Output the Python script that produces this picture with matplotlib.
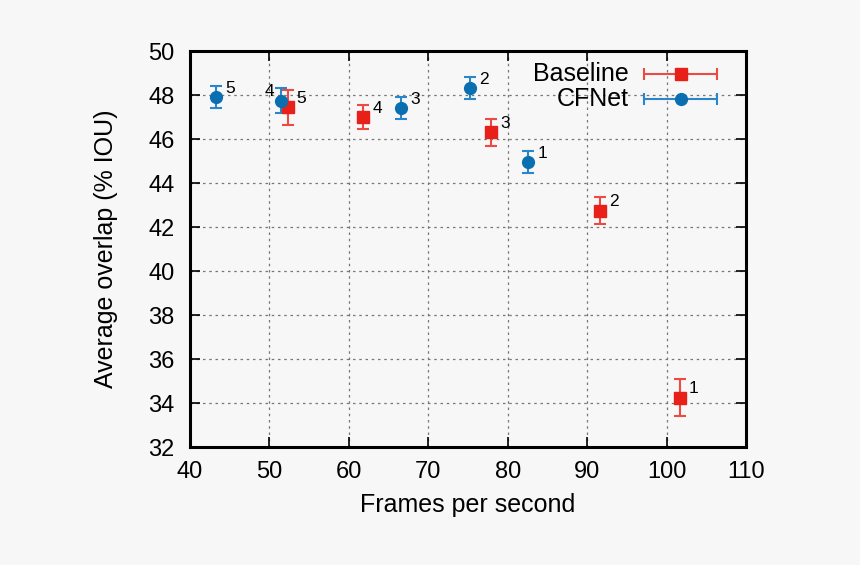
import matplotlib
matplotlib.use("Agg")
import matplotlib.pyplot as plt

plt.rcParams['font.family'] = ['Liberation Sans', 'DejaVu Sans']

# Data
base_fps = [101.7, 91.6, 77.9, 61.8, 52.3]
base_iou = [34.25, 42.75, 46.3, 47.0, 47.45]
base_err = [0.85, 0.6, 0.6, 0.55, 0.8]
base_lbl = ['1', '2', '3', '4', '5']

cf_fps = [82.6, 75.3, 66.6, 51.5, 43.3]
cf_iou = [44.95, 48.3, 47.4, 47.75, 47.9]
cf_err = [0.5, 0.5, 0.5, 0.55, 0.5]
cf_lbl = ['1', '2', '3', '4', '5']

red = '#e8201a'
red_bar = '#ee4a44'
blue = '#0a6fb0'
blue_bar = '#2a86c8'

fig = plt.figure(figsize=(8.6, 5.65), dpi=100, facecolor='#f7f7f7')
ax = fig.add_axes([190/860, 1-447/565, (746-190)/860, (447-51)/565])
ax.set_facecolor('#f7f7f7')

ekw = dict(markersize=8.5, capsize=4, elinewidth=1.5, capthick=1.5)
ax.errorbar(base_fps, base_iou, yerr=base_err, fmt='s', color=red, ecolor=red_bar, zorder=3, **ekw)
ax.errorbar(cf_fps, cf_iou, yerr=cf_err, fmt='o', color=blue, ecolor=blue_bar, zorder=3, **ekw)

for x, y, t in zip(base_fps, base_iou, base_lbl):
    ax.annotate(t, (x, y), xytext=(6.5, 3), textcoords='offset points', fontsize=12.5,
                va='baseline', ha='left')
for x, y, t in zip(cf_fps, cf_iou, cf_lbl):
    if t == '4':
        ax.annotate(t, (x, y), xytext=(-5, 3), textcoords='offset points', fontsize=12.5,
                    va='baseline', ha='right')
    else:
        ax.annotate(t, (x, y), xytext=(6.5, 3), textcoords='offset points', fontsize=12.5,
                    va='baseline', ha='left')

ax.set_xlim(40, 110)
ax.set_ylim(32, 50)
ax.set_xticks(range(40, 111, 10))
ax.set_yticks(range(32, 51, 2))
ax.tick_params(direction='in', top=True, right=True, length=7, width=1.2, labelsize=17)
ax.tick_params(axis='x', pad=10)
ax.tick_params(axis='y', pad=11)
ax.grid(True, linestyle=(0, (2, 3)), color='#777777', linewidth=0.9)
for s in ax.spines.values():
    s.set_linewidth(2.2)
ax.set_xlabel('Frames per second', fontsize=18, labelpad=7)
ax.set_ylabel('Average overlap (% IOU)', fontsize=18, labelpad=22)

# legend drawn manually in axes coordinates
def ax_xy(px, py):
    return ((px-190)/556, (447-py)/396)

for (name, col, bcol, mk, py) in [('Baseline', red, red_bar, 's', 74), ('CFNet', blue, blue_bar, 'o', 99)]:
    tx, ty = ax_xy(629, py)
    ax.text(tx, ty, name, transform=ax.transAxes, ha='right', va='center', fontsize=18)
    x0, y0 = ax_xy(644, py)
    x1, _ = ax_xy(717, py)
    xm, _ = ax_xy(681, py)
    ax.errorbar([xm], [y0], xerr=[[xm-x0], [x1-xm]], fmt=mk, color=col, ecolor=bcol,
                transform=ax.transAxes, clip_on=False, zorder=4, **ekw)

fig.savefig('out.png', dpi=100, facecolor=fig.get_facecolor())
